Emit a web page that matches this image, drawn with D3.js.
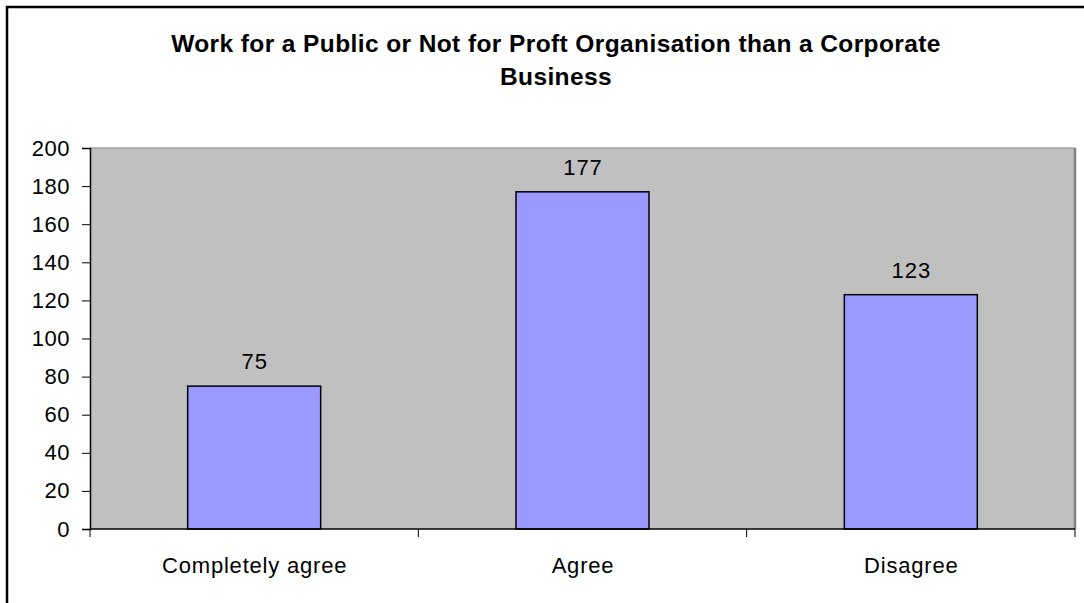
<!DOCTYPE html>
<html>
<head>
<meta charset="utf-8">
<script src="https://cdn.jsdelivr.net/npm/d3@7"></script>
<style>
  html, body { margin: 0; padding: 0; background: #fff; }
  svg { display: block; font-family: "Liberation Sans", Arial, sans-serif; }
</style>
</head>
<body>
<svg id="chart" width="1084" height="603"></svg>
<script>
const categories = ["Completely agree", "Agree", "Disagree"];
const values = [75, 177, 123];
const yTicks = [0, 20, 40, 60, 80, 100, 120, 140, 160, 180, 200];
const titleLines = ["Work for a Public or Not for Proft Organisation than a Corporate", "Business"];

const svg = d3.select("#chart");
const W = 1084, H = 603;
const plot = { left: 90, top: 148, right: 1075, bottom: 529 };
const FONT = "'Liberation Sans', Arial, sans-serif";

// outer frame (right and bottom run off the picture)
svg.append("rect")
  .attr("x", 7).attr("y", 7)
  .attr("width", W + 20).attr("height", H + 20)
  .attr("fill", "#fff").attr("stroke", "#000").attr("stroke-width", 2.5);

// title
const title = svg.append("text")
  .attr("text-anchor", "middle")
  .attr("font-weight", "bold")
  .attr("font-size", 24.5)
  .attr("letter-spacing", 0.4)
  .attr("fill", "#000");
titleLines.forEach((t, i) => {
  title.append("tspan").attr("x", 556).attr("y", 52 + i * 33).text(t);
});

const x = d3.scaleBand()
  .domain(categories)
  .range([plot.left, plot.right])
  .paddingInner(0.595)
  .paddingOuter(0.2975);

const xOuter = d3.scaleBand()
  .domain(categories)
  .range([plot.left, plot.right])
  .padding(0);

const y = d3.scaleLinear()
  .domain([0, 200])
  .range([plot.bottom, plot.top]);

// plot area
svg.append("rect")
  .attr("x", plot.left).attr("y", plot.top)
  .attr("width", plot.right - plot.left).attr("height", plot.bottom - plot.top)
  .attr("fill", "#c0c0c0");
svg.append("line")
  .attr("x1", plot.left).attr("x2", plot.right)
  .attr("y1", plot.top).attr("y2", plot.top)
  .attr("stroke", "#a0a0a0").attr("stroke-width", 1.5);
svg.append("line")
  .attr("x1", plot.right).attr("x2", plot.right)
  .attr("y1", plot.top).attr("y2", plot.bottom)
  .attr("stroke", "#808080").attr("stroke-width", 2.5);

// bars
svg.selectAll("rect.bar")
  .data(values)
  .join("rect")
  .attr("class", "bar")
  .attr("x", (d, i) => x(categories[i]))
  .attr("y", d => y(d))
  .attr("width", x.bandwidth())
  .attr("height", d => y(0) - y(d))
  .attr("fill", "#9999ff")
  .attr("stroke", "#000")
  .attr("stroke-width", 1.5);

// data labels
svg.selectAll("text.lbl")
  .data(values)
  .join("text")
  .attr("class", "lbl")
  .attr("x", (d, i) => x(categories[i]) + x.bandwidth() / 2 + 0.5)
  .attr("y", d => y(d) - 17)
  .attr("text-anchor", "middle")
  .attr("font-size", 22)
  .attr("letter-spacing", 1)
  .attr("fill", "#000")
  .text(d => d);

// y axis
const yAxis = svg.append("g")
  .attr("transform", `translate(${plot.left},0)`)
  .call(d3.axisLeft(y).tickValues(yTicks).tickSize(8).tickPadding(12));
yAxis.select(".domain").attr("stroke", "#000").attr("stroke-width", 1.5);
yAxis.selectAll(".tick line").attr("stroke", "#000").attr("stroke-width", 1);
yAxis.selectAll(".tick text").attr("font-size", 22).attr("fill", "#000")
  .attr("letter-spacing", 0.5)
  .attr("font-family", FONT);

// x axis line
svg.append("line")
  .attr("x1", plot.left).attr("x2", plot.right)
  .attr("y1", plot.bottom).attr("y2", plot.bottom)
  .attr("stroke", "#000").attr("stroke-width", 1.5);

// x category ticks at band boundaries
const boundaries = categories.map(c => xOuter(c)).concat([plot.right]);
svg.selectAll("line.xt")
  .data(boundaries)
  .join("line")
  .attr("class", "xt")
  .attr("x1", d => d).attr("x2", d => d)
  .attr("y1", plot.bottom).attr("y2", plot.bottom + 8)
  .attr("stroke", "#000").attr("stroke-width", 1);

// x category labels
svg.selectAll("text.cat")
  .data(categories)
  .join("text")
  .attr("class", "cat")
  .attr("x", d => xOuter(d) + xOuter.bandwidth() / 2 + 0.5)
  .attr("y", 573)
  .attr("text-anchor", "middle")
  .attr("font-size", 22)
  .attr("letter-spacing", 0.8)
  .attr("fill", "#000")
  .text(d => d);
</script>
</body>
</html>
